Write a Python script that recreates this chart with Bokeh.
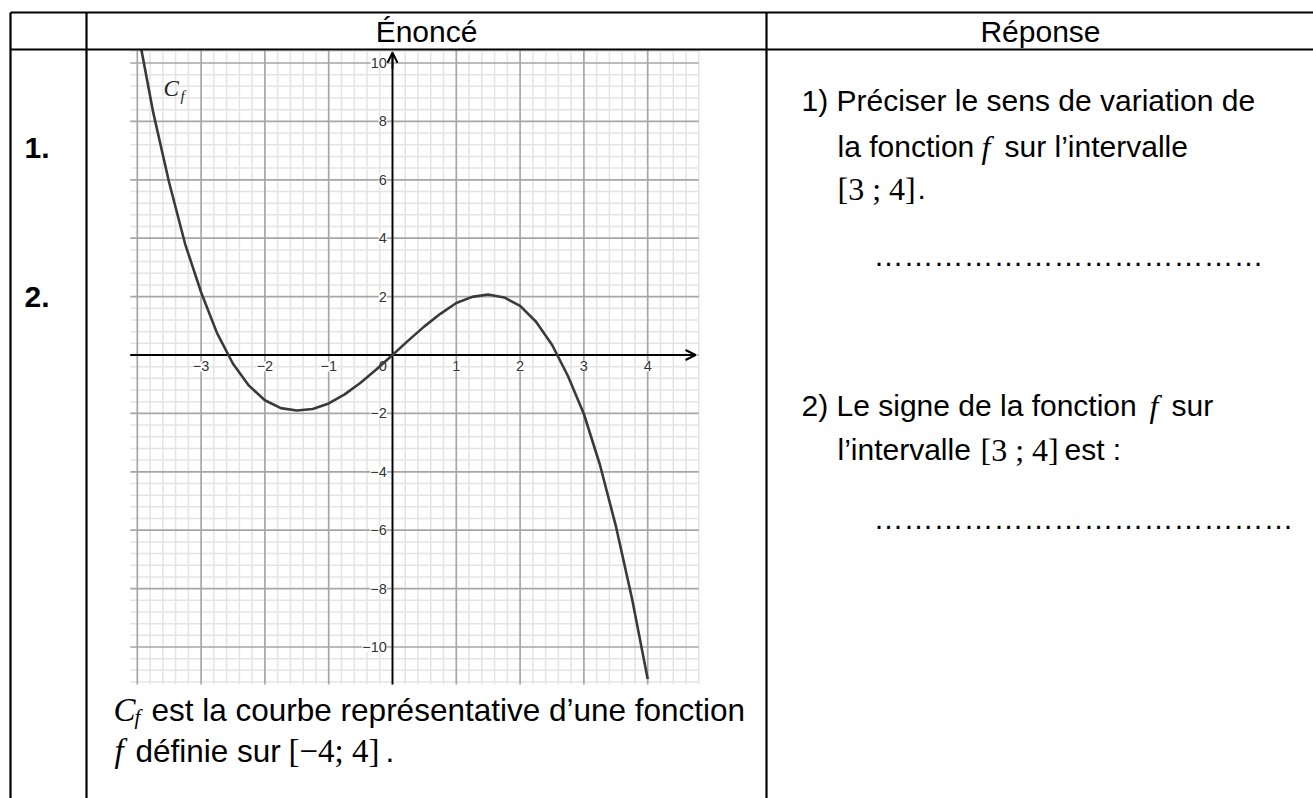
import numpy as np
from bokeh.plotting import figure
from bokeh.models import Range1d, Arrow, OpenHead
from bokeh.core.properties import value
from bokeh.embed import file_html
from bokeh.resources import INLINE

# ---------------- data ----------------
CURVE_X = [-4.0, -3.75, -3.5, -3.25, -3.0, -2.75, -2.5, -2.25, -2.0, -1.75, -1.5,
           -1.25, -1.0, -0.75, -0.5, -0.25, 0.0, 0.25, 0.5, 0.75, 1.0, 1.25, 1.5,
           1.75, 2.0, 2.25, 2.5, 2.75, 3.0, 3.25, 3.5, 3.75, 4.0]
CURVE_Y = [11.2, 8.3, 5.9, 3.8, 2.15, 0.75, -0.3, -1.05, -1.55, -1.82, -1.9,
           -1.85, -1.66, -1.35, -0.95, -0.49, 0.0, 0.5, 0.98, 1.41, 1.78, 1.99, 2.07,
           1.97, 1.68, 1.14, 0.35, -0.72, -2.02, -3.75, -5.85, -8.3, -11.1]

X_TICKS = [-3, -2, -1, 1, 2, 3, 4]
X_TICK_LABELS = ["−3", "−2", "−1", "1", "2", "3", "4"]
Y_TICKS = [10, 8, 6, 4, 2, -2, -4, -6, -8, -10]
Y_TICK_LABELS = ["10", "8", "6", "4", "2", "−2", "−4", "−6", "−8", "−10"]

VIEW_X = (-4.11, 4.80)     # visible window of the graph
VIEW_Y = (-11.28, 10.43)

# ---------------- page geometry (screen pixels) ----------------
PAGE_W, PAGE_H = 1313, 798
OX, OY = 392.0, 354.5      # pixel position of the graph origin
SX, SY = 63.8, 29.2        # pixels per unit

FONT = value("Liberation Sans")
SERIF = value("Liberation Serif")

p = figure(width=PAGE_W, height=PAGE_H,
           x_range=Range1d(0, PAGE_W), y_range=Range1d(PAGE_H, 0),
           output_backend="svg", toolbar_location=None, min_border=0,
           x_axis_type=None, y_axis_type=None)
p.outline_line_color = None
p.background_fill_color = "white"
p.border_fill_color = "white"

p.extra_x_ranges = {"gx": Range1d((0 - OX) / SX, (PAGE_W - OX) / SX)}
p.extra_y_ranges = {"gy": Range1d((OY - PAGE_H) / SY, (OY - 0) / SY)}
G = dict(x_range_name="gx", y_range_name="gy")

# ---------------- grid ----------------
minor_x = [float(v) for v in np.round(np.arange(-4.0, VIEW_X[1] + 0.001, 0.2), 2)
           if abs(v - round(v)) > 1e-6]
major_x = list(range(-4, 5))
minor_y = [float(v) for v in np.round(np.arange(-11.2, VIEW_Y[1] + 0.001, 0.4), 2)
           if abs(v / 2 - round(v / 2)) > 1e-6]
major_y = list(range(-10, 11, 2))

def vlines(xs, color, w):
    p.segment(x0=xs, y0=[VIEW_Y[0]] * len(xs), x1=xs, y1=[VIEW_Y[1]] * len(xs),
              line_color=color, line_width=w, **G)

def hlines(ys, color, w):
    p.segment(x0=[VIEW_X[0]] * len(ys), y0=ys, x1=[VIEW_X[1]] * len(ys), y1=ys,
              line_color=color, line_width=w, **G)

vlines(minor_x, "#e4e4e4", 1.5)
hlines(minor_y, "#e4e4e4", 1.5)
vlines(major_x, "#a6a6a6", 1.7)
hlines(major_y, "#a6a6a6", 1.7)

# axes
p.segment(x0=[VIEW_X[0], 0], y0=[0, VIEW_Y[0]], x1=[4.74, 0], y1=[0, 10.33],
          line_color="black", line_width=1.8, **G)
p.add_layout(Arrow(end=OpenHead(size=10, line_width=2, line_color="black"),
                   x_start=4.5, y_start=0, x_end=4.75, y_end=0,
                   line_color="black", line_width=1.8, **G))
p.add_layout(Arrow(end=OpenHead(size=10, line_width=2, line_color="black"),
                   x_start=0, y_start=9.8, x_end=0, y_end=10.35,
                   line_color="black", line_width=1.8, **G))

# tick labels
p.text(x=X_TICKS, y=[-0.22] * len(X_TICKS), text=X_TICK_LABELS, text_align="center",
       text_baseline="top", text_font=FONT, text_font_size="14.5px", text_color="#333333",
       background_fill_color="white", **G)
p.text(x=[-0.09] * len(Y_TICKS), y=Y_TICKS, text=Y_TICK_LABELS, text_align="right",
       text_baseline="middle", text_font=FONT, text_font_size="14.5px", text_color="#333333",
       background_fill_color="white", **G)
p.text(x=[-0.09], y=[-0.22], text=["0"], text_align="right", text_baseline="top",
       text_font=FONT, text_font_size="14.5px", text_color="#333333", **G)

# curve
p.line(CURVE_X, CURVE_Y, line_color="#3a3a3a", line_width=2.6, line_join="round", **G)

# C_f label
p.text(x=[163], y=[88], text=["C"], text_font=SERIF, text_font_style="italic",
       text_font_size="23px", text_color="#222222", text_baseline="middle")
p.text(x=[180], y=[95], text=["f"], text_font=SERIF, text_font_style="italic",
       text_font_size="15px", text_color="#222222", text_baseline="middle")

# mask above the graph (header row of middle column)
p.quad(left=[87], right=[765], top=[13], bottom=[49.5], fill_color="white", line_color=None)

# ---------------- table ----------------
p.segment(x0=[10, 10, 10, 86, 766], y0=[12, 49, 12, 12, 12],
          x1=[PAGE_W, PAGE_W, 10, 86, 766], y1=[12, 49, PAGE_H, PAGE_H, PAGE_H],
          line_color="black", line_width=2.2)

def txt(x, y, s, font=FONT, size="30px", style="normal", align="left"):
    p.text(x=[x], y=[y], text=[s], text_font=font, text_font_size=size,
           text_font_style=style, text_align=align, text_baseline="middle",
           text_color="black")

MATH = "32px"
txt(426, 31, "Énoncé", align="center")
txt(1040, 31, "Réponse", align="center")
txt(24, 147, "1.", style="bold")
txt(24, 296, "2.", style="bold")

# right column
txt(801, 100, "1) Préciser le sens de variation de")
txt(837, 146, "la fonction")
txt(981, 146, "f", font=SERIF, style="italic", size=MATH)
txt(1004, 146, "sur l’intervalle")
txt(837, 188, "[3 ; 4]", font=SERIF, size=MATH)
txt(917, 188, ".")
txt(873, 255, "…" * 13)

txt(801, 405, "2) Le signe de la fonction")
txt(1149, 405, "f", font=SERIF, style="italic", size=MATH)
txt(1171, 405, "sur")
txt(837, 449, "l’intervalle")
txt(980, 449, "[3 ; 4]", font=SERIF, size=MATH)
txt(1064, 449, "est :")
txt(873, 518, "…" * 14)

# caption under the graph
CAP = "31.5px"
CAPM = "33px"
txt(113, 709, "C", font=SERIF, style="italic", size=CAPM)
txt(134, 716, "f", font=SERIF, style="italic", size="21px")
txt(151, 709, "est la courbe représentative d’une fonction", size=CAP)
txt(114, 750, "f", font=SERIF, style="italic", size=CAPM)
txt(135, 750, "définie sur", size=CAP)
txt(288, 750, "[−4; 4]", font=SERIF, size=CAPM)
txt(385, 750, ".", size=CAP)

open("out.html", "w").write(file_html(p, INLINE))
